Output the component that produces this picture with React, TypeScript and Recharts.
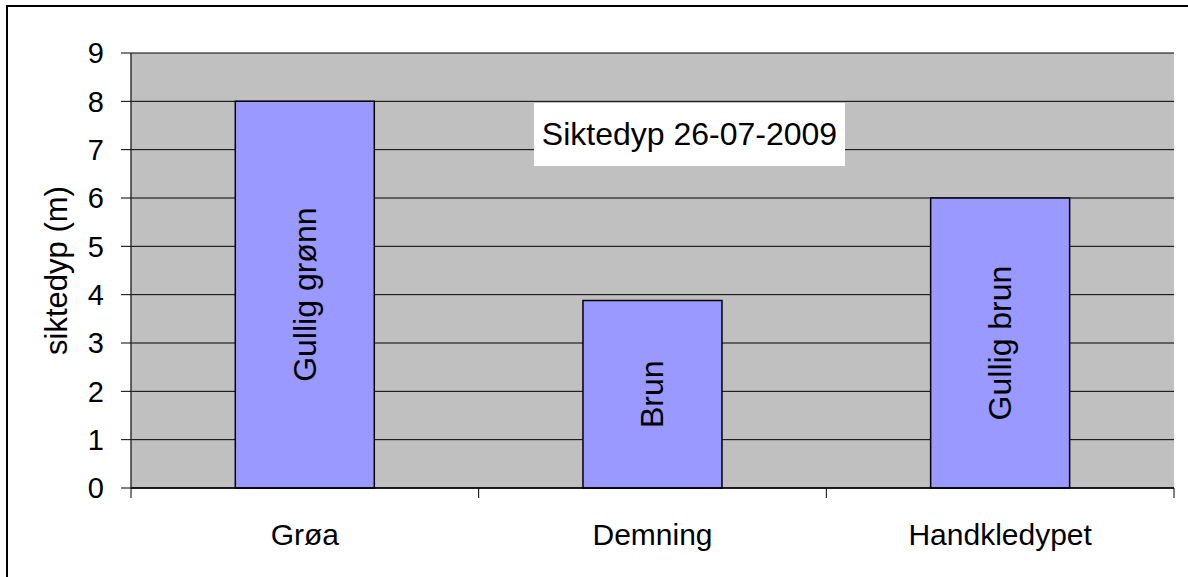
import { BarChart, Bar, XAxis, YAxis, CartesianGrid, LabelList } from "recharts";

const categories = ["Grøa", "Demning", "Handkledypet"];
const depths = [8, 3.88, 6];
const waterColours = ["Gullig grønn", "Brun", "Gullig brun"];
const yTicks = [0, 1, 2, 3, 4, 5, 6, 7, 8, 9];

const chartTitle = "Siktedyp 26-07-2009";
const yAxisTitle = "siktedyp (m)";

const FONT = "'Liberation Sans', Arial, Helvetica, sans-serif";

const data = categories.map((name, i) => ({ name, depth: depths[i], colour: waterColours[i] }));

// category label plus Excel-style tick marks on the category boundaries
function CategoryTick(props: any) {
  const { x, y, payload, index, visibleTicksCount } = props;
  const half = payload?.offset ?? 0;
  const axisY = y - 36;
  return (
    <g>
      <line x1={x - half} x2={x - half} y1={axisY} y2={axisY + 10} stroke="#000" strokeWidth={1} />
      {index === visibleTicksCount - 1 && (
        <line x1={x + half} x2={x + half} y1={axisY} y2={axisY + 10} stroke="#000" strokeWidth={1} />
      )}
      <text x={x} y={y} dy="0.71em" textAnchor="middle" fill="#000" fontSize={30} fontFamily={FONT}>
        {payload.value}
      </text>
    </g>
  );
}

function YTitle(props: any) {
  const vb = props.viewBox || {};
  const cx = vb.x + 56;
  const cy = vb.y + vb.height / 2;
  return (
    <text
      x={cx}
      y={cy}
      transform={`rotate(-90, ${cx}, ${cy})`}
      textAnchor="middle"
      dominantBaseline="central"
      fill="#000"
      fontSize={31}
      fontFamily={FONT}
    >
      {yAxisTitle}
    </text>
  );
}

function InBarLabel(props: any) {
  const { x, y, width, height, value } = props;
  const cx = x + width / 2;
  const cy = y + height / 2;
  return (
    <text
      x={cx}
      y={cy}
      transform={`rotate(-90, ${cx}, ${cy})`}
      textAnchor="middle"
      dominantBaseline="central"
      fill="#000"
      fontSize={32}
      fontFamily={FONT}
    >
      {value}
    </text>
  );
}

export default function App() {
  return (
    <div style={{ position: "absolute", left: 0, top: 0, width: 1188, height: 577, background: "#fff", fontFamily: FONT }}>
      <div
        style={{
          position: "absolute",
          left: 6,
          top: 5,
          right: 0,
          bottom: 0,
          borderLeft: "2px solid #000",
          borderTop: "2px solid #000",
        }}
      />
      <div style={{ position: "absolute", left: 0, top: 0 }}>
        <BarChart width={1188} height={577} data={data} margin={{ top: 53, right: 14, bottom: 29, left: 0 }} barCategoryGap="30%">
          <CartesianGrid vertical={false} fill="#C0C0C0" stroke="#000" strokeWidth={1} />
          <XAxis
            dataKey="name"
            height={60}
            axisLine={{ stroke: "#000", strokeWidth: 1.5 }}
            tickLine={false}
            tickSize={10}
            tickMargin={26}
            tick={<CategoryTick />}
            interval={0}
          />
          <XAxis xAxisId="top" orientation="top" dataKey="name" height={0} tick={false} tickLine={false} axisLine={{ stroke: "#808080", strokeWidth: 2 }} />
          <YAxis
            width={131}
            domain={[0, 9]}
            ticks={yTicks}
            interval={0}
            axisLine={{ stroke: "#333", strokeWidth: 1.5 }}
            tickLine={{ stroke: "#000" }}
            tickSize={10}
            tickMargin={17}
            tick={{ fill: "#000", fontSize: 29, fontFamily: FONT }}
            label={<YTitle />}
          />
          <YAxis yAxisId="right" orientation="right" width={0} domain={[0, 9]} tick={false} tickLine={false} axisLine={{ stroke: "#808080", strokeWidth: 2 }} />
          <Bar dataKey="depth" fill="#9999FF" stroke="#000" strokeWidth={1.5} isAnimationActive={false}>
            <LabelList dataKey="colour" content={<InBarLabel />} />
          </Bar>
        </BarChart>
      </div>
      <div
        style={{
          position: "absolute",
          left: 534,
          top: 103,
          width: 311,
          height: 63,
          background: "#fff",
          display: "flex",
          alignItems: "center",
          justifyContent: "center",
          fontSize: 32,
          color: "#000",
          whiteSpace: "nowrap",
        }}
      >
        {chartTitle}
      </div>
    </div>
  );
}
